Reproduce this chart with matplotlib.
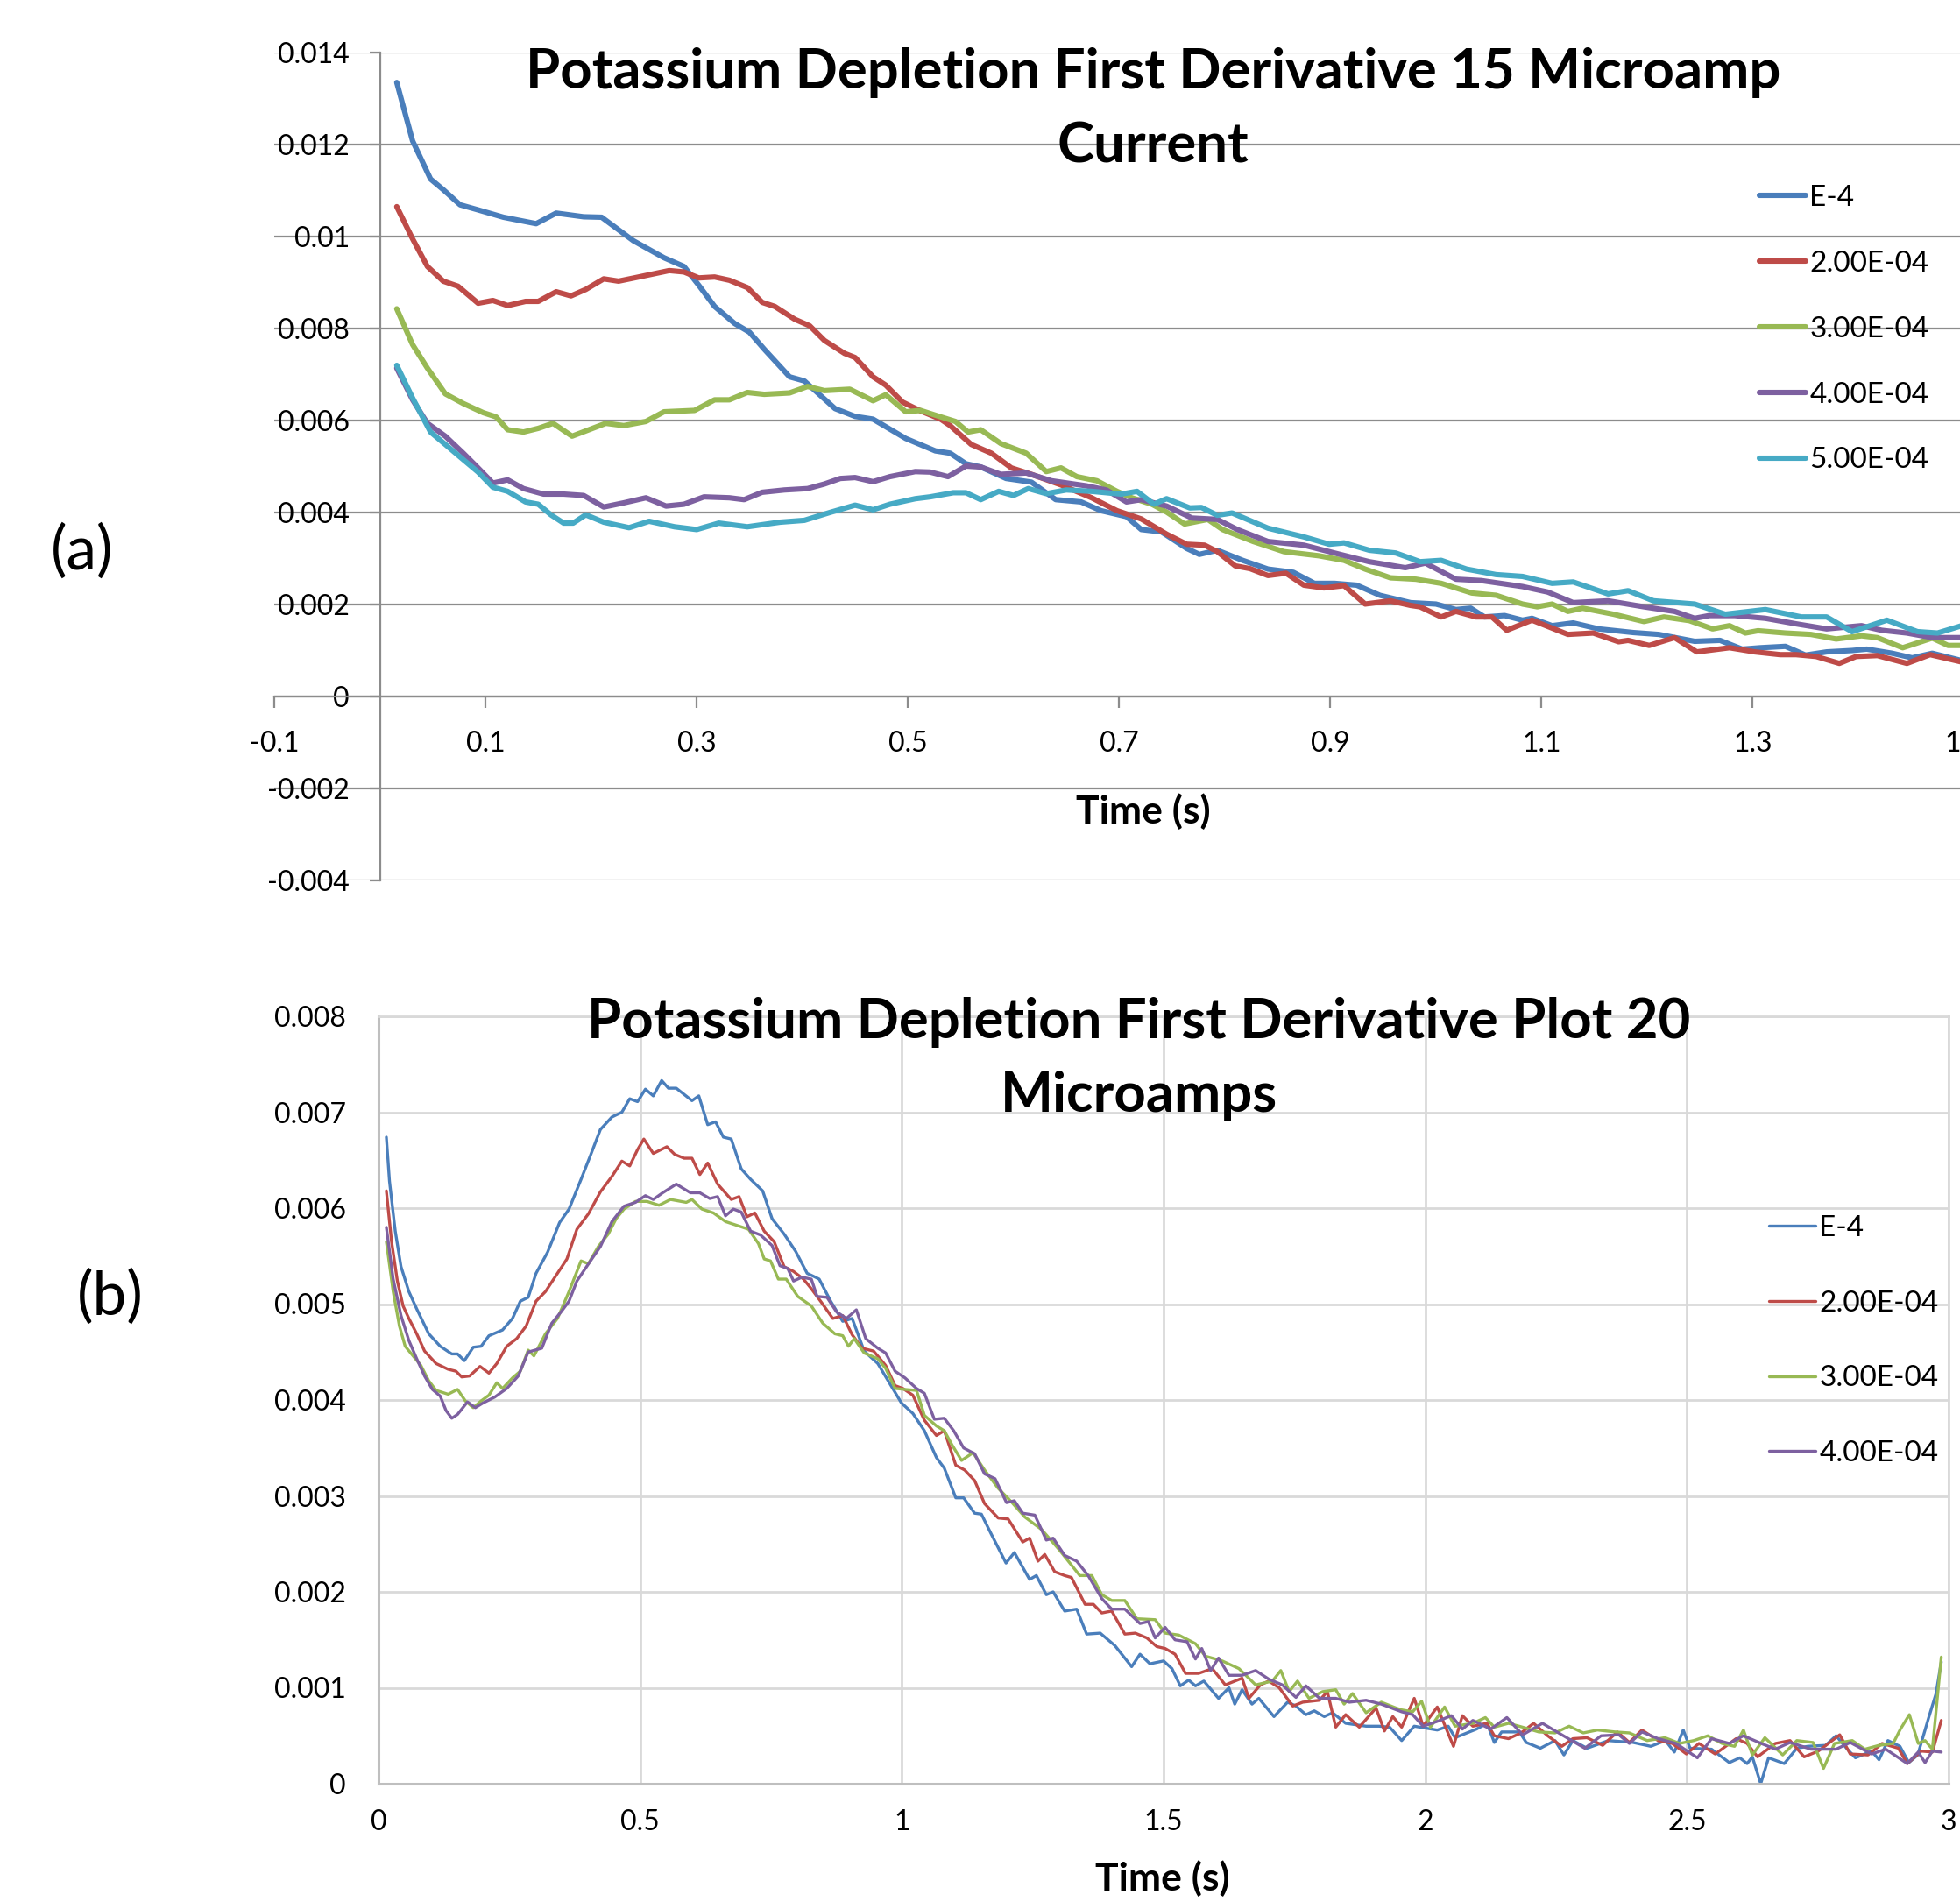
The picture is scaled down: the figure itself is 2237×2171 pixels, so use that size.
import numpy as np
import matplotlib
matplotlib.use('Agg')
import matplotlib.pyplot as plt
from matplotlib.ticker import FuncFormatter

plt.rcParams['font.family'] = ['Lato', 'DejaVu Sans']

# ---------------- data ----------------
COLORS = ['#4A7EBB', '#BE4B48', '#98B954', '#7D60A0', '#46AAC5']
LABELS_A = ['E-4', '2.00E-04', '3.00E-04', '4.00E-04', '5.00E-04']
LABELS_B = ['E-4', '2.00E-04', '3.00E-04', '4.00E-04']
TITLE_A = ['Potassium Depletion First Derivative 15 Microamp', 'Current']
TITLE_B = ['Potassium Depletion First Derivative Plot 20', 'Microamps']
XLABEL = 'Time (s)'
XTICKS_A = [-0.1, 0.1, 0.3, 0.5, 0.7, 0.9, 1.1, 1.3, 1.5]
YTICKS_A = [-0.004, -0.002, 0, 0.002, 0.004, 0.006, 0.008, 0.01, 0.012, 0.014]
XTICKS_B = [0, 0.5, 1, 1.5, 2, 2.5, 3]
YTICKS_B = [0, 0.001, 0.002, 0.003, 0.004, 0.005, 0.006, 0.007, 0.008]

# Panel (a) series: [time, value]
A_E4 = np.array([
    [0.016, 0.01335], [0.031, 0.01208], [0.048, 0.01125], [0.060, 0.01102], [0.076, 0.01069],
    [0.093, 0.01058], [0.117, 0.01042], [0.148, 0.01028], [0.167, 0.01051], [0.193, 0.01043],
    [0.210, 0.01042], [0.240, 0.00991], [0.269, 0.00954], [0.288, 0.00935], [0.302, 0.00894],
    [0.317, 0.00848], [0.336, 0.00811], [0.350, 0.00792], [0.364, 0.00755], [0.388, 0.00695],
    [0.402, 0.00686], [0.431, 0.00626], [0.450, 0.00609], [0.467, 0.00603], [0.498, 0.00561],
    [0.526, 0.00534], [0.540, 0.00529], [0.555, 0.00506], [0.569, 0.00499], [0.593, 0.00474],
    [0.617, 0.00466], [0.640, 0.00428], [0.664, 0.00423], [0.683, 0.00404], [0.707, 0.00391],
    [0.721, 0.00363], [0.740, 0.00358], [0.764, 0.00322], [0.776, 0.00309], [0.793, 0.00318],
    [0.817, 0.00296], [0.841, 0.00277], [0.865, 0.00270], [0.885, 0.00246], [0.904, 0.00246],
    [0.925, 0.00242], [0.947, 0.00220], [0.976, 0.00204], [1.000, 0.00201], [1.019, 0.00189],
    [1.033, 0.00192], [1.046, 0.00173], [1.065, 0.00176], [1.082, 0.00166], [1.091, 0.00170],
    [1.110, 0.00154], [1.130, 0.00160], [1.154, 0.00147], [1.187, 0.00139], [1.211, 0.00135],
    [1.245, 0.00120], [1.269, 0.00122], [1.290, 0.00103], [1.307, 0.00106], [1.331, 0.00109],
    [1.350, 0.00090], [1.370, 0.00097], [1.394, 0.00100], [1.408, 0.00103], [1.432, 0.00094],
    [1.451, 0.00084], [1.470, 0.00094], [1.498, 0.00078], [1.520, 0.00074]])

A_2E4 = np.array([
    [0.016, 0.01065], [0.031, 0.00995], [0.045, 0.00935], [0.060, 0.00903], [0.074, 0.00892],
    [0.093, 0.00855], [0.107, 0.00861], [0.121, 0.00850], [0.138, 0.00859], [0.150, 0.00859],
    [0.167, 0.00880], [0.181, 0.00871], [0.195, 0.00885], [0.212, 0.00908], [0.226, 0.00903],
    [0.245, 0.00912], [0.274, 0.00926], [0.288, 0.00923], [0.302, 0.00910], [0.317, 0.00912],
    [0.331, 0.00905], [0.348, 0.00889], [0.362, 0.00857], [0.374, 0.00848], [0.393, 0.00820],
    [0.407, 0.00806], [0.421, 0.00774], [0.440, 0.00746], [0.450, 0.00737], [0.467, 0.00695],
    [0.479, 0.00677], [0.495, 0.00640], [0.512, 0.00621], [0.531, 0.00603], [0.540, 0.00589],
    [0.560, 0.00548], [0.579, 0.00529], [0.598, 0.00497], [0.617, 0.00483], [0.645, 0.00460],
    [0.674, 0.00432], [0.698, 0.00404], [0.721, 0.00386], [0.745, 0.00353], [0.764, 0.00331],
    [0.781, 0.00329], [0.793, 0.00315], [0.810, 0.00284], [0.824, 0.00278], [0.841, 0.00263],
    [0.858, 0.00268], [0.875, 0.00242], [0.894, 0.00236], [0.913, 0.00241], [0.933, 0.00201],
    [0.957, 0.00208], [0.976, 0.00198], [0.985, 0.00195], [1.005, 0.00173], [1.019, 0.00185],
    [1.038, 0.00173], [1.053, 0.00173], [1.067, 0.00144], [1.091, 0.00166], [1.125, 0.00135],
    [1.149, 0.00138], [1.173, 0.00119], [1.182, 0.00122], [1.202, 0.00111], [1.226, 0.00128],
    [1.247, 0.00097], [1.278, 0.00106], [1.302, 0.00097], [1.326, 0.00091], [1.341, 0.00091],
    [1.360, 0.00087], [1.382, 0.00072], [1.398, 0.00087], [1.418, 0.00089], [1.446, 0.00072],
    [1.468, 0.00091], [1.498, 0.00075], [1.520, 0.00072]])

A_3E4 = np.array([
    [0.016, 0.00843], [0.031, 0.00765], [0.045, 0.00714], [0.062, 0.00658], [0.079, 0.00637],
    [0.098, 0.00617], [0.110, 0.00608], [0.121, 0.00580], [0.136, 0.00575], [0.150, 0.00583],
    [0.164, 0.00594], [0.182, 0.00566], [0.198, 0.00580], [0.214, 0.00594], [0.231, 0.00589],
    [0.252, 0.00598], [0.269, 0.00619], [0.298, 0.00622], [0.317, 0.00645], [0.331, 0.00645],
    [0.348, 0.00661], [0.364, 0.00657], [0.388, 0.00660], [0.405, 0.00674], [0.421, 0.00665],
    [0.445, 0.00668], [0.467, 0.00643], [0.479, 0.00656], [0.498, 0.00619], [0.512, 0.00622],
    [0.531, 0.00608], [0.545, 0.00598], [0.557, 0.00575], [0.569, 0.00580], [0.588, 0.00550],
    [0.612, 0.00529], [0.631, 0.00489], [0.645, 0.00497], [0.660, 0.00478], [0.679, 0.00469],
    [0.698, 0.00446], [0.712, 0.00432], [0.731, 0.00418], [0.745, 0.00401], [0.762, 0.00375],
    [0.784, 0.00385], [0.798, 0.00363], [0.827, 0.00337], [0.856, 0.00315], [0.889, 0.00306],
    [0.913, 0.00296], [0.933, 0.00277], [0.957, 0.00258], [0.981, 0.00255], [1.005, 0.00246],
    [1.034, 0.00225], [1.057, 0.00220], [1.082, 0.00201], [1.096, 0.00195], [1.110, 0.00201],
    [1.125, 0.00185], [1.139, 0.00192], [1.168, 0.00179], [1.197, 0.00163], [1.216, 0.00173],
    [1.240, 0.00165], [1.262, 0.00147], [1.278, 0.00154], [1.293, 0.00138], [1.305, 0.00143],
    [1.331, 0.00138], [1.355, 0.00135], [1.379, 0.00125], [1.403, 0.00132], [1.418, 0.00128],
    [1.442, 0.00106], [1.470, 0.00127], [1.485, 0.00111], [1.498, 0.00111], [1.520, 0.00112]])

A_4E4 = np.array([
    [0.016, 0.00714], [0.031, 0.00645], [0.045, 0.00594], [0.062, 0.00566], [0.079, 0.00529],
    [0.093, 0.00497], [0.107, 0.00464], [0.121, 0.00471], [0.136, 0.00452], [0.155, 0.00440],
    [0.174, 0.00440], [0.193, 0.00437], [0.212, 0.00412], [0.231, 0.00421], [0.252, 0.00432],
    [0.271, 0.00414], [0.288, 0.00418], [0.307, 0.00434], [0.331, 0.00432], [0.345, 0.00428],
    [0.362, 0.00444], [0.383, 0.00449], [0.405, 0.00452], [0.421, 0.00462], [0.436, 0.00474],
    [0.450, 0.00476], [0.467, 0.00467], [0.483, 0.00478], [0.507, 0.00489], [0.521, 0.00488],
    [0.538, 0.00478], [0.555, 0.00501], [0.569, 0.00499], [0.588, 0.00483], [0.612, 0.00486],
    [0.636, 0.00469], [0.669, 0.00458], [0.688, 0.00449], [0.707, 0.00423], [0.721, 0.00428],
    [0.745, 0.00414], [0.769, 0.00388], [0.793, 0.00385], [0.812, 0.00363], [0.841, 0.00337],
    [0.875, 0.00329], [0.904, 0.00312], [0.937, 0.00293], [0.971, 0.00280], [0.990, 0.00290],
    [1.019, 0.00255], [1.043, 0.00252], [1.082, 0.00239], [1.106, 0.00227], [1.130, 0.00204],
    [1.163, 0.00208], [1.197, 0.00195], [1.226, 0.00185], [1.245, 0.00170], [1.259, 0.00176],
    [1.283, 0.00176], [1.312, 0.00170], [1.341, 0.00158], [1.370, 0.00147], [1.403, 0.00154],
    [1.422, 0.00144], [1.446, 0.00138], [1.470, 0.00128], [1.498, 0.00128], [1.520, 0.00127]])

A_5E4 = np.array([
    [0.016, 0.00720], [0.031, 0.00649], [0.048, 0.00575], [0.062, 0.00548], [0.079, 0.00515],
    [0.093, 0.00488], [0.107, 0.00455], [0.121, 0.00446], [0.138, 0.00423], [0.150, 0.00418],
    [0.162, 0.00395], [0.174, 0.00377], [0.183, 0.00377], [0.195, 0.00395], [0.212, 0.00379],
    [0.236, 0.00367], [0.255, 0.00381], [0.279, 0.00369], [0.300, 0.00363], [0.321, 0.00377],
    [0.348, 0.00369], [0.379, 0.00379], [0.402, 0.00383], [0.426, 0.00400], [0.450, 0.00416],
    [0.467, 0.00406], [0.483, 0.00418], [0.507, 0.00430], [0.521, 0.00434], [0.543, 0.00443],
    [0.555, 0.00443], [0.569, 0.00428], [0.586, 0.00446], [0.600, 0.00437], [0.614, 0.00452],
    [0.631, 0.00441], [0.650, 0.00449], [0.674, 0.00446], [0.702, 0.00440], [0.717, 0.00446],
    [0.733, 0.00418], [0.745, 0.00430], [0.767, 0.00410], [0.778, 0.00411], [0.793, 0.00394],
    [0.807, 0.00399], [0.841, 0.00366], [0.875, 0.00347], [0.899, 0.00331], [0.913, 0.00334],
    [0.937, 0.00318], [0.962, 0.00312], [0.985, 0.00293], [1.005, 0.00296], [1.029, 0.00277],
    [1.057, 0.00265], [1.082, 0.00261], [1.110, 0.00246], [1.130, 0.00249], [1.163, 0.00223],
    [1.182, 0.00230], [1.206, 0.00208], [1.245, 0.00201], [1.274, 0.00179], [1.312, 0.00189],
    [1.346, 0.00173], [1.370, 0.00173], [1.394, 0.00141], [1.427, 0.00166], [1.456, 0.00141],
    [1.475, 0.00138], [1.498, 0.00154], [1.520, 0.00160]])

# Panel (b) series: [time, value]
B_E4 = np.array([
    [0.015, 0.00674], [0.021, 0.00628], [0.032, 0.00576], [0.043, 0.00539], [0.058, 0.00513],
    [0.073, 0.00495], [0.096, 0.00469], [0.118, 0.00456], [0.140, 0.00448], [0.151, 0.00448],
    [0.164, 0.00441], [0.181, 0.00455], [0.196, 0.00456], [0.211, 0.00467], [0.237, 0.00473],
    [0.256, 0.00485], [0.271, 0.00503], [0.286, 0.00507], [0.301, 0.00532], [0.323, 0.00554],
    [0.346, 0.00585], [0.364, 0.00599], [0.387, 0.00630], [0.405, 0.00655], [0.424, 0.00682],
    [0.446, 0.00695], [0.465, 0.00700], [0.480, 0.00714], [0.495, 0.00711], [0.510, 0.00724],
    [0.525, 0.00717], [0.541, 0.00733], [0.554, 0.00725], [0.569, 0.00725], [0.599, 0.00712],
    [0.612, 0.00717], [0.629, 0.00687], [0.644, 0.00690], [0.659, 0.00674], [0.674, 0.00672],
    [0.693, 0.00641], [0.711, 0.00630], [0.734, 0.00618], [0.752, 0.00589], [0.775, 0.00573],
    [0.797, 0.00555], [0.819, 0.00532], [0.831, 0.00529], [0.842, 0.00526], [0.864, 0.00503],
    [0.887, 0.00482], [0.905, 0.00485], [0.928, 0.00451], [0.954, 0.00438], [0.976, 0.00418],
    [0.999, 0.00397], [1.021, 0.00386], [1.043, 0.00368], [1.066, 0.00340], [1.081, 0.00329],
    [1.103, 0.00298], [1.118, 0.00298], [1.139, 0.00282], [1.152, 0.00281], [1.171, 0.00260],
    [1.199, 0.00230], [1.215, 0.00241], [1.244, 0.00213], [1.257, 0.00217], [1.276, 0.00197],
    [1.289, 0.00200], [1.311, 0.00180], [1.334, 0.00182], [1.353, 0.00156], [1.379, 0.00157],
    [1.407, 0.00144], [1.439, 0.00122], [1.455, 0.00135], [1.474, 0.00125], [1.500, 0.00128],
    [1.516, 0.00120], [1.532, 0.00102], [1.548, 0.00108], [1.561, 0.00102], [1.577, 0.00107],
    [1.605, 0.00089], [1.625, 0.00100], [1.636, 0.00083], [1.650, 0.00098], [1.669, 0.00083],
    [1.682, 0.00089], [1.711, 0.00070], [1.737, 0.00085], [1.753, 0.00081], [1.772, 0.00072],
    [1.788, 0.00076], [1.807, 0.00070], [1.823, 0.00074], [1.848, 0.00063], [1.887, 0.00060],
    [1.912, 0.00060], [1.932, 0.00059], [1.955, 0.00045], [1.979, 0.00060], [2.023, 0.00056],
    [2.044, 0.00060], [2.057, 0.00048], [2.098, 0.00057], [2.118, 0.00063], [2.132, 0.00043],
    [2.146, 0.00054], [2.180, 0.00054], [2.193, 0.00043], [2.220, 0.00037], [2.248, 0.00045],
    [2.265, 0.00030], [2.282, 0.00045], [2.309, 0.00037], [2.350, 0.00045], [2.397, 0.00043],
    [2.431, 0.00039], [2.459, 0.00045], [2.476, 0.00033], [2.493, 0.00056], [2.506, 0.00037],
    [2.547, 0.00036], [2.581, 0.00022], [2.601, 0.00027], [2.615, 0.00021], [2.625, 0.00028],
    [2.641, 0.00000], [2.656, 0.00027], [2.686, 0.00021], [2.710, 0.00037], [2.731, 0.00039],
    [2.765, 0.00040], [2.785, 0.00050], [2.805, 0.00037], [2.822, 0.00027], [2.853, 0.00034],
    [2.867, 0.00025], [2.884, 0.00045], [2.907, 0.00039], [2.924, 0.00022], [2.941, 0.00030],
    [2.962, 0.00069], [2.976, 0.00094], [2.986, 0.00127]])

B_2E4 = np.array([
    [0.015, 0.00618], [0.025, 0.00565], [0.036, 0.00524], [0.047, 0.00498], [0.058, 0.00485],
    [0.073, 0.00469], [0.088, 0.00451], [0.110, 0.00438], [0.133, 0.00432], [0.148, 0.00430],
    [0.159, 0.00424], [0.174, 0.00425], [0.194, 0.00435], [0.211, 0.00428], [0.226, 0.00438],
    [0.245, 0.00456], [0.264, 0.00464], [0.282, 0.00477], [0.301, 0.00503], [0.319, 0.00513],
    [0.342, 0.00532], [0.360, 0.00547], [0.379, 0.00578], [0.401, 0.00594], [0.424, 0.00617],
    [0.446, 0.00633], [0.465, 0.00649], [0.480, 0.00644], [0.495, 0.00661], [0.507, 0.00672],
    [0.525, 0.00657], [0.551, 0.00664], [0.566, 0.00656], [0.584, 0.00652], [0.599, 0.00652],
    [0.614, 0.00635], [0.629, 0.00647], [0.648, 0.00625], [0.674, 0.00609], [0.689, 0.00612],
    [0.704, 0.00591], [0.719, 0.00595], [0.737, 0.00576], [0.756, 0.00565], [0.775, 0.00539],
    [0.793, 0.00534], [0.812, 0.00526], [0.827, 0.00516], [0.846, 0.00502], [0.868, 0.00485],
    [0.887, 0.00488], [0.905, 0.00468], [0.924, 0.00454], [0.946, 0.00451], [0.969, 0.00436],
    [0.987, 0.00415], [1.002, 0.00412], [1.021, 0.00405], [1.043, 0.00379], [1.066, 0.00363],
    [1.081, 0.00368], [1.103, 0.00332], [1.120, 0.00327], [1.139, 0.00316], [1.158, 0.00292],
    [1.184, 0.00277], [1.203, 0.00276], [1.231, 0.00252], [1.244, 0.00256], [1.260, 0.00232],
    [1.273, 0.00239], [1.292, 0.00221], [1.311, 0.00217], [1.324, 0.00215], [1.350, 0.00187],
    [1.366, 0.00187], [1.382, 0.00178], [1.401, 0.00180], [1.426, 0.00156], [1.446, 0.00157],
    [1.468, 0.00152], [1.487, 0.00143], [1.503, 0.00141], [1.522, 0.00135], [1.542, 0.00115],
    [1.567, 0.00115], [1.593, 0.00120], [1.618, 0.00103], [1.650, 0.00110], [1.663, 0.00089],
    [1.685, 0.00103], [1.701, 0.00107], [1.721, 0.00100], [1.747, 0.00081], [1.766, 0.00085],
    [1.798, 0.00087], [1.813, 0.00096], [1.829, 0.00059], [1.848, 0.00072], [1.874, 0.00059],
    [1.906, 0.00079], [1.922, 0.00055], [1.938, 0.00070], [1.955, 0.00059], [1.979, 0.00089],
    [1.996, 0.00060], [2.023, 0.00080], [2.054, 0.00039], [2.071, 0.00071], [2.091, 0.00060],
    [2.118, 0.00063], [2.132, 0.00050], [2.159, 0.00047], [2.183, 0.00053], [2.207, 0.00063],
    [2.234, 0.00050], [2.261, 0.00039], [2.282, 0.00047], [2.309, 0.00048], [2.339, 0.00040],
    [2.367, 0.00054], [2.390, 0.00043], [2.414, 0.00056], [2.445, 0.00045], [2.472, 0.00042],
    [2.499, 0.00031], [2.523, 0.00042], [2.554, 0.00031], [2.594, 0.00047], [2.615, 0.00042],
    [2.635, 0.00028], [2.669, 0.00042], [2.697, 0.00045], [2.724, 0.00028], [2.751, 0.00034],
    [2.792, 0.00051], [2.812, 0.00031], [2.846, 0.00030], [2.873, 0.00042], [2.904, 0.00037],
    [2.921, 0.00021], [2.948, 0.00034], [2.969, 0.00033], [2.986, 0.00066]])

B_3E4 = np.array([
    [0.015, 0.00565], [0.028, 0.00513], [0.040, 0.00477], [0.051, 0.00456], [0.066, 0.00446],
    [0.081, 0.00436], [0.096, 0.00420], [0.110, 0.00410], [0.133, 0.00406], [0.151, 0.00411],
    [0.166, 0.00399], [0.181, 0.00392], [0.196, 0.00399], [0.211, 0.00405], [0.226, 0.00418],
    [0.237, 0.00412], [0.256, 0.00423], [0.271, 0.00430], [0.286, 0.00452], [0.297, 0.00446],
    [0.319, 0.00469], [0.342, 0.00485], [0.364, 0.00513], [0.387, 0.00545], [0.401, 0.00542],
    [0.420, 0.00560], [0.439, 0.00573], [0.454, 0.00589], [0.469, 0.00599], [0.491, 0.00607],
    [0.513, 0.00607], [0.536, 0.00603], [0.558, 0.00609], [0.588, 0.00606], [0.599, 0.00609],
    [0.618, 0.00599], [0.640, 0.00595], [0.663, 0.00586], [0.685, 0.00582], [0.707, 0.00578],
    [0.726, 0.00563], [0.737, 0.00547], [0.749, 0.00545], [0.764, 0.00526], [0.779, 0.00526],
    [0.801, 0.00508], [0.827, 0.00498], [0.849, 0.00480], [0.872, 0.00469], [0.887, 0.00467],
    [0.898, 0.00456], [0.909, 0.00464], [0.928, 0.00449], [0.954, 0.00443], [0.969, 0.00433],
    [0.987, 0.00412], [1.006, 0.00411], [1.028, 0.00410], [1.043, 0.00384], [1.066, 0.00373],
    [1.081, 0.00368], [1.096, 0.00353], [1.114, 0.00337], [1.136, 0.00345], [1.158, 0.00327],
    [1.184, 0.00308], [1.209, 0.00294], [1.235, 0.00278], [1.267, 0.00265], [1.299, 0.00245],
    [1.318, 0.00232], [1.340, 0.00217], [1.363, 0.00217], [1.382, 0.00197], [1.401, 0.00191],
    [1.426, 0.00191], [1.449, 0.00172], [1.484, 0.00171], [1.503, 0.00157], [1.529, 0.00155],
    [1.561, 0.00146], [1.580, 0.00133], [1.612, 0.00128], [1.644, 0.00120], [1.676, 0.00103],
    [1.708, 0.00107], [1.724, 0.00118], [1.740, 0.00096], [1.756, 0.00107], [1.778, 0.00089],
    [1.804, 0.00096], [1.829, 0.00098], [1.845, 0.00083], [1.861, 0.00094], [1.887, 0.00074],
    [1.916, 0.00085], [1.944, 0.00079], [1.955, 0.00077], [1.976, 0.00075], [1.993, 0.00086],
    [2.010, 0.00059], [2.037, 0.00080], [2.057, 0.00060], [2.091, 0.00063], [2.115, 0.00069],
    [2.132, 0.00059], [2.159, 0.00063], [2.186, 0.00059], [2.217, 0.00054], [2.248, 0.00053],
    [2.275, 0.00060], [2.302, 0.00053], [2.329, 0.00056], [2.363, 0.00054], [2.390, 0.00053],
    [2.424, 0.00045], [2.458, 0.00048], [2.486, 0.00042], [2.513, 0.00045], [2.540, 0.00050],
    [2.567, 0.00042], [2.591, 0.00039], [2.608, 0.00056], [2.625, 0.00030], [2.649, 0.00048],
    [2.683, 0.00030], [2.710, 0.00045], [2.741, 0.00043], [2.761, 0.00016], [2.782, 0.00042],
    [2.816, 0.00045], [2.840, 0.00036], [2.867, 0.00040], [2.894, 0.00042], [2.908, 0.00057],
    [2.925, 0.00072], [2.942, 0.00042], [2.955, 0.00045], [2.969, 0.00036], [2.986, 0.00132]])

B_4E4 = np.array([
    [0.015, 0.00580], [0.028, 0.00526], [0.043, 0.00488], [0.058, 0.00462], [0.073, 0.00443],
    [0.088, 0.00425], [0.103, 0.00411], [0.118, 0.00404], [0.129, 0.00389], [0.140, 0.00381],
    [0.151, 0.00385], [0.170, 0.00398], [0.185, 0.00392], [0.200, 0.00397], [0.222, 0.00403],
    [0.245, 0.00412], [0.267, 0.00425], [0.286, 0.00450], [0.312, 0.00454], [0.331, 0.00480],
    [0.349, 0.00492], [0.364, 0.00503], [0.379, 0.00524], [0.405, 0.00545], [0.424, 0.00560],
    [0.446, 0.00586], [0.469, 0.00602], [0.491, 0.00606], [0.510, 0.00613], [0.525, 0.00609],
    [0.543, 0.00616], [0.569, 0.00625], [0.596, 0.00616], [0.614, 0.00616], [0.633, 0.00610],
    [0.648, 0.00612], [0.663, 0.00592], [0.678, 0.00599], [0.693, 0.00596], [0.711, 0.00576],
    [0.730, 0.00572], [0.752, 0.00561], [0.767, 0.00540], [0.782, 0.00537], [0.793, 0.00524],
    [0.809, 0.00528], [0.827, 0.00526], [0.838, 0.00508], [0.857, 0.00507], [0.875, 0.00492],
    [0.894, 0.00485], [0.913, 0.00494], [0.931, 0.00464], [0.954, 0.00454], [0.969, 0.00449],
    [0.987, 0.00430], [1.006, 0.00423], [1.028, 0.00412], [1.043, 0.00407], [1.062, 0.00380],
    [1.081, 0.00381], [1.099, 0.00368], [1.118, 0.00350], [1.139, 0.00344], [1.158, 0.00323],
    [1.178, 0.00318], [1.200, 0.00293], [1.215, 0.00295], [1.231, 0.00282], [1.254, 0.00280],
    [1.276, 0.00254], [1.289, 0.00256], [1.311, 0.00238], [1.334, 0.00232], [1.356, 0.00217],
    [1.382, 0.00193], [1.401, 0.00182], [1.426, 0.00182], [1.455, 0.00167], [1.471, 0.00169],
    [1.484, 0.00152], [1.503, 0.00163], [1.522, 0.00150], [1.545, 0.00148], [1.561, 0.00130],
    [1.573, 0.00141], [1.590, 0.00118], [1.605, 0.00131], [1.625, 0.00113], [1.650, 0.00113],
    [1.676, 0.00118], [1.701, 0.00109], [1.727, 0.00103], [1.753, 0.00090], [1.772, 0.00102],
    [1.798, 0.00089], [1.829, 0.00089], [1.855, 0.00085], [1.887, 0.00087], [1.916, 0.00083],
    [1.955, 0.00075], [1.976, 0.00072], [1.996, 0.00060], [2.023, 0.00065], [2.050, 0.00071],
    [2.071, 0.00057], [2.091, 0.00066], [2.125, 0.00057], [2.156, 0.00069], [2.186, 0.00051],
    [2.224, 0.00063], [2.261, 0.00051], [2.305, 0.00037], [2.336, 0.00050], [2.370, 0.00051],
    [2.390, 0.00042], [2.414, 0.00054], [2.445, 0.00047], [2.479, 0.00042], [2.520, 0.00027],
    [2.547, 0.00047], [2.581, 0.00042], [2.608, 0.00050], [2.642, 0.00042], [2.669, 0.00036],
    [2.697, 0.00043], [2.737, 0.00036], [2.785, 0.00036], [2.812, 0.00043], [2.853, 0.00031],
    [2.880, 0.00036], [2.921, 0.00021], [2.942, 0.00033], [2.955, 0.00022], [2.969, 0.00034],
    [2.986, 0.00033]])

SERIES_A = [A_E4, A_2E4, A_3E4, A_4E4, A_5E4]
SERIES_B = [B_E4, B_2E4, B_3E4, B_4E4]

# ---------------- figure ----------------
W, H = 2237, 2171
fig = plt.figure(figsize=(W / 100, H / 100), dpi=100)
fmt = FuncFormatter(lambda v, p: '%g' % v)
TXT = '#000000'
TICK_FS = 23
LEG_FS = 24
TITLE_FS = 45.7
XLAB_FS = 32
PANEL_FS = 50

# ---------- panel (a) ----------
GRID_A = '#8C8C8C'
axA = fig.add_axes([313 / W, 1 - 1005 / H, (2241.5 - 313) / W, (1005 - 60) / H])
axA.set_xlim(-0.1, 1.5)
axA.set_ylim(-0.004, 0.014)
for s in ['top', 'right']:
    axA.spines[s].set_visible(False)
axA.spines['left'].set_position(('data', 0))
axA.spines['bottom'].set_position(('data', 0))
for s in ['left', 'bottom']:
    axA.spines[s].set_color(GRID_A)
    axA.spines[s].set_linewidth(1.6)
axA.set_xticks(XTICKS_A)
axA.set_yticks(YTICKS_A)
axA.xaxis.set_major_formatter(fmt)
axA.yaxis.set_major_formatter(fmt)
axA.tick_params(axis='both', direction='out', length=9, width=1.6, color=GRID_A,
                labelsize=TICK_FS, labelcolor=TXT)
axA.tick_params(axis='y', pad=16)
axA.tick_params(axis='x', pad=19)
axA.yaxis.grid(True, color=GRID_A, linewidth=1.6)
axA.set_axisbelow(True)
for data, c, lab in zip(SERIES_A, COLORS, LABELS_A):
    axA.plot(data[:, 0], data[:, 1], color=c, lw=4.4, label=lab,
             solid_joinstyle='round', solid_capstyle='round')
legA = axA.legend(loc='upper left', bbox_to_anchor=(2008 / W, 1 - 211 / H),
                  bbox_transform=fig.transFigure, frameon=False, fontsize=LEG_FS,
                  handlelength=1.6, handletextpad=0.12, labelspacing=1.345,
                  borderpad=0, borderaxespad=0)
for t in legA.get_texts():
    t.set_color(TXT)
fig.text(1316 / W, 1 - 83 / H, TITLE_A[0], ha='center', va='center',
         fontsize=TITLE_FS, fontweight='bold', color=TXT)
fig.text(1316 / W, 1 - 167 / H, TITLE_A[1], ha='center', va='center',
         fontsize=TITLE_FS, fontweight='bold', color=TXT)
fig.text(1305 / W, 1 - 926 / H, XLABEL, ha='center', va='center',
         fontsize=XLAB_FS, fontweight='bold', color=TXT)
fig.text(94 / W, 1 - 629 / H, '(a)', ha='center', va='center', fontsize=PANEL_FS, color=TXT)

# ---------- panel (b) ----------
GRID_B = '#D9D9D9'
axB = fig.add_axes([432 / W, 1 - 2036 / H, (2224 - 432) / W, (2036 - 1160) / H])
axB.set_xlim(0, 3)
axB.set_ylim(0, 0.008)
for s in ['top', 'right']:
    axB.spines[s].set_color(GRID_B)
    axB.spines[s].set_linewidth(2)
for s in ['left', 'bottom']:
    axB.spines[s].set_color('#BFBFBF')
    axB.spines[s].set_linewidth(2.2)
axB.set_xticks(XTICKS_B)
axB.set_yticks(YTICKS_B)
axB.xaxis.set_major_formatter(fmt)
axB.yaxis.set_major_formatter(fmt)
axB.tick_params(axis='both', length=0, labelsize=TICK_FS, labelcolor=TXT)
axB.tick_params(axis='y', pad=27)
axB.tick_params(axis='x', pad=21)
axB.grid(True, color=GRID_B, linewidth=2)
axB.set_axisbelow(True)
for data, c, lab in zip(SERIES_B, COLORS, LABELS_B):
    axB.plot(data[:, 0], data[:, 1], color=c, lw=2.4, label=lab,
             solid_joinstyle='round', solid_capstyle='round')
legB = axB.legend(loc='upper left', bbox_to_anchor=(2019 / W, 1 - 1387 / H),
                  bbox_transform=fig.transFigure, frameon=False, fontsize=LEG_FS,
                  handlelength=1.6, handletextpad=0.12, labelspacing=1.67,
                  borderpad=0, borderaxespad=0)
for t in legB.get_texts():
    t.set_color(TXT)
fig.text(1300 / W, 1 - 1167 / H, TITLE_B[0], ha='center', va='center',
         fontsize=TITLE_FS, fontweight='bold', color=TXT)
fig.text(1300 / W, 1 - 1251 / H, TITLE_B[1], ha='center', va='center',
         fontsize=TITLE_FS, fontweight='bold', color=TXT)
fig.text(1327 / W, 1 - 2144 / H, XLABEL, ha='center', va='center',
         fontsize=XLAB_FS, fontweight='bold', color=TXT)
fig.text(126 / W, 1 - 1480 / H, '(b)', ha='center', va='center', fontsize=PANEL_FS, color=TXT)

fig.savefig('out.png', dpi=100, facecolor='white')
